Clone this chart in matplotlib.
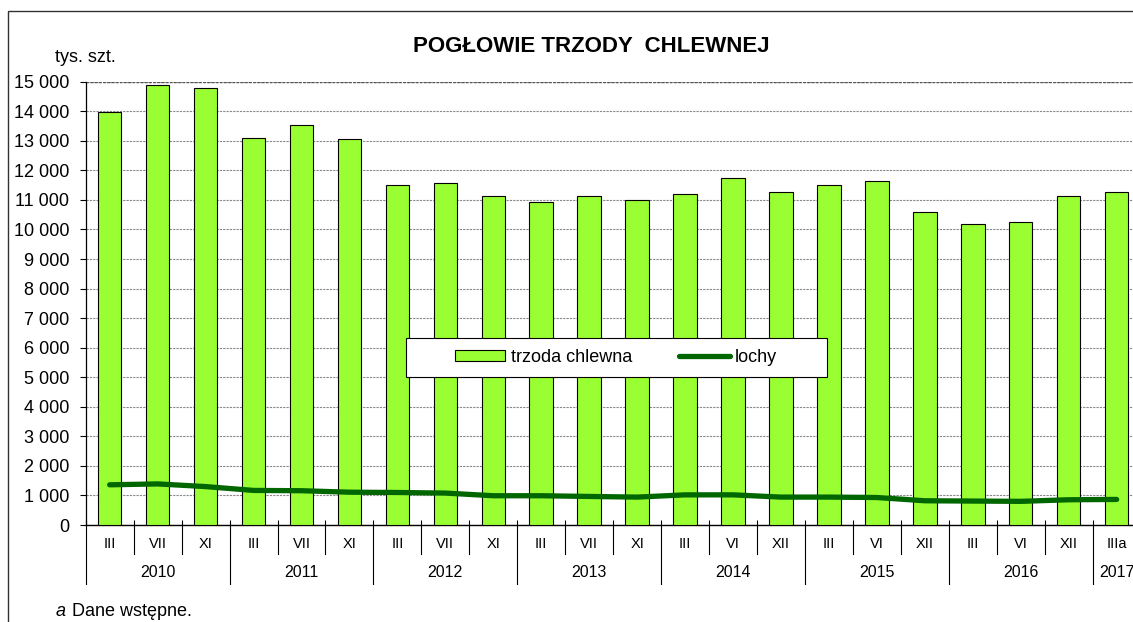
import matplotlib.pyplot as plt
from matplotlib.patches import Rectangle, Patch
from matplotlib.lines import Line2D
from matplotlib.ticker import FuncFormatter

plt.rcParams['font.family'] = ['Liberation Sans', 'DejaVu Sans']

months = ["III", "VII", "XI", "III", "VII", "XI", "III", "VII", "XI", "III", "VII", "XI",
          "III", "VI", "XII", "III", "VI", "XII", "III", "VI", "XII", "IIIa"]
years = ["2010", "2011", "2012", "2013", "2014", "2015", "2016", "2017"]
year_counts = [3, 3, 3, 3, 3, 3, 3, 1]
trzoda = [13990, 14880, 14770, 13100, 13520, 13060, 11490, 11580, 11140, 10930, 11130,
          11000, 11200, 11730, 11270, 11520, 11650, 10600, 10180, 10250, 11120, 11270]
lochy = [1360, 1390, 1300, 1170, 1160, 1110, 1100, 1080, 990, 990, 966, 944,
         1020, 1020, 944, 944, 930, 820, 810, 800, 854, 865]

W, H = 1133, 622
fig = plt.figure(figsize=(W / 100, H / 100), dpi=100)
ax = fig.add_axes([85.7 / W, 1 - 525 / H, (1140.6 - 85.7) / W, (525 - 81.7) / H])

# outer chart border (runs off the right/bottom edge like in the source)
fig.patches.append(Rectangle((8 / W, -0.1), 1.2, 1.1 - 10.7 / H, transform=fig.transFigure,
                             fill=False, edgecolor='#333333', lw=1.0, zorder=0))

x = list(range(len(months)))
ax.bar(x, trzoda, width=0.49, color='#99FF33', edgecolor='black', lw=0.8, zorder=3)
ax.plot(x, lochy, color='#006600', lw=3.8, solid_capstyle='round', solid_joinstyle='round', zorder=4)

ax.set_xlim(-0.5, len(months) - 0.5)
ax.set_ylim(0, 15000)
ax.set_yticks(range(0, 15001, 1000))
ax.yaxis.set_major_formatter(FuncFormatter(lambda v, p: f"{int(v):,}".replace(",", " ")))
ax.tick_params(axis='y', length=4, width=0.8, pad=8, labelsize=13)
ax.grid(axis='y', color='#888888', ls=(0, (2, 1)), lw=0.8, zorder=1)
ax.set_axisbelow(True)
for s in ['top', 'right']:
    ax.spines[s].set_visible(False)
ax.spines['left'].set_linewidth(0.9)
ax.spines['bottom'].set_linewidth(1.0)
ax.axhline(15000, color='#555555', ls=(0, (2, 1)), lw=1.0, zorder=1)

# x axis: separators and two-level labels
bounds = [i - 0.5 for i in range(len(months) + 1)]
ax.set_xticks(bounds)
ax.set_xticklabels([])
ax.tick_params(axis='x', direction='in', length=3.5, width=0.8)
tr = ax.get_xaxis_transform()
year_bounds = [-0.5]
for c in year_counts:
    year_bounds.append(year_bounds[-1] + c)
for b in bounds:
    depth = -0.133 if b in year_bounds else -0.0654
    ax.add_line(Line2D([b, b], [0, depth], transform=tr, color='black', lw=0.8, clip_on=False))
for i, m in enumerate(months):
    ax.text(i, -0.043, m, transform=tr, ha='center', va='center', fontsize=10.5)
for j, yname in enumerate(years):
    cx = (year_bounds[j] + year_bounds[j + 1]) / 2
    ax.text(cx, -0.108, yname, transform=tr, ha='center', va='center', fontsize=11.5)

fig.text(591 / W, 1 - 46 / H, "POGŁOWIE TRZODY  CHLEWNEJ", ha='center', va='center',
         fontsize=16, fontweight='bold')
fig.text(55 / W, 1 - 58 / H, "tys. szt.", ha='left', va='center', fontsize=13)
fig.text(56 / W, 1 - 612 / H, "a", ha='left', va='center', fontsize=13, fontstyle='italic')
fig.text(72 / W, 1 - 612 / H, "Dane wstępne.", ha='left', va='center', fontsize=13)

# legend
fig.patches.append(Rectangle((406 / W, 1 - 377 / H), (827 - 406) / W, (377 - 338) / H,
                             transform=fig.transFigure, facecolor='white', edgecolor='black',
                             lw=0.8, zorder=5))
handles = [Patch(facecolor='#99FF33', edgecolor='black', lw=0.8, label='trzoda chlewna'),
           Line2D([], [], color='#006600', lw=3.8, solid_capstyle='round', label='lochy')]
leg = fig.legend(handles=handles, loc='center', bbox_to_anchor=(616 / W, 1 - 357.5 / H),
                 ncol=2, frameon=False, fontsize=13, handlelength=2.8, handleheight=0.55,
                 handletextpad=0.3, columnspacing=2.6)
leg.set_zorder(6)

fig.savefig('out.png', dpi=100)
